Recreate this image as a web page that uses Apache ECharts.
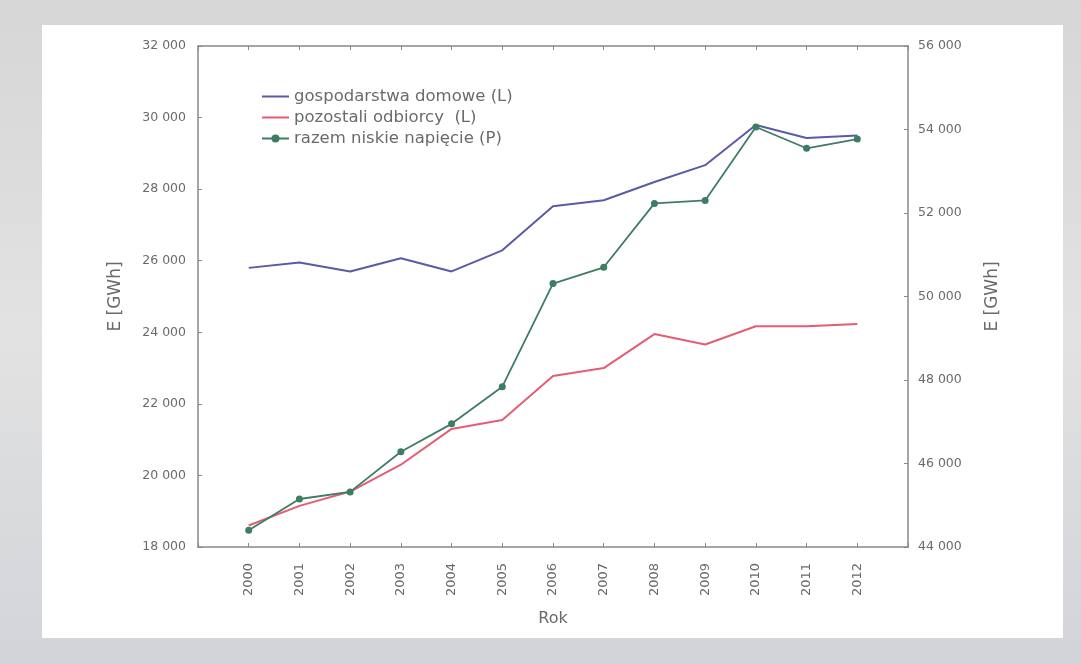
<!DOCTYPE html>
<html>
<head>
<meta charset="utf-8">
<script src="https://cdn.jsdelivr.net/npm/echarts@6/dist/echarts.min.js"></script>
<style>
  html, body { margin: 0; padding: 0; width: 1081px; height: 664px; overflow: hidden;
    background: linear-gradient(180deg, #d6d6d6 0%, #e2e2e2 50%, #d2d4d8 100%); }
  #panel { position: absolute; left: 42px; top: 25px; width: 1021px; height: 613px; background: #ffffff; }
  #chart { position: absolute; left: 0; top: 0; width: 1081px; height: 664px; }
</style>
</head>
<body>
<div id="panel"></div>
<div id="chart"></div>
<script>
const years = [2000, 2001, 2002, 2003, 2004, 2005, 2006, 2007, 2008, 2009, 2010, 2011, 2012];
const gospodarstwa = [25800, 25950, 25700, 26070, 25700, 26290, 27520, 27690, 28200, 28670, 29790, 29430, 29500];
const pozostali = [18600, 19150, 19550, 20300, 21300, 21550, 22780, 23000, 23950, 23660, 24170, 24170, 24230];
const razem = [44400, 45150, 45320, 46280, 46950, 47840, 50310, 50700, 52230, 52300, 54060, 53550, 53770];
const seriesNames = ['gospodarstwa domowe (L)', 'pozostali odbiorcy  (L)', 'razem niskie napięcie (P)'];
const leftTicks = { min: 18000, max: 32000, interval: 2000 };
const rightTicks = { min: 44000, max: 56000, interval: 2000 };

const pair = arr => years.map((y, i) => [y, arr[i]]);
const fmt = v => String(v).replace(/\B(?=(\d{3})+(?!\d))/g, ' ');
const txt = '#6a6a6a';
const font = 'DejaVu Sans, Verdana, sans-serif';
const blue = '#5a5aa6', red = '#e35d75', green = '#3d7d62';

const chart = echarts.init(document.getElementById('chart'));
chart.setOption({
  backgroundColor: 'transparent',
  animation: false,
  grid: { left: 198, right: 173, top: 46, bottom: 117 },
  legend: {
    left: 256, top: 83, orient: 'vertical', itemGap: 4,
    itemWidth: 27, itemHeight: 10,
    textStyle: { fontFamily: font, fontSize: 16.5, color: txt },
    data: [
      { name: seriesNames[0], itemStyle: { opacity: 0 } },
      { name: seriesNames[1], itemStyle: { opacity: 0 } },
      { name: seriesNames[2] }
    ]
  },
  xAxis: [{
    type: 'value', min: 1999, max: 2013, interval: 1,
    name: 'Rok', nameLocation: 'middle', nameGap: 64,
    nameTextStyle: { fontFamily: font, fontSize: 16, color: txt },
    axisLine: { lineStyle: { color: '#888', width: 1.5 } },
    axisTick: { inside: true, length: 4, lineStyle: { color: '#888' } },
    splitLine: { show: false },
    axisLabel: {
      rotate: 90, margin: 16, fontFamily: font, fontSize: 13, color: txt,
      formatter: v => (v >= years[0] && v <= years[years.length - 1]) ? String(v) : ''
    }
  }, {
    type: 'value', position: 'top', min: 1999, max: 2013, interval: 1,
    axisLine: { lineStyle: { color: '#888', width: 1.5 } },
    axisTick: { inside: true, length: 4, lineStyle: { color: '#888' } },
    axisLabel: { show: false }, splitLine: { show: false }
  }],
  yAxis: [{
    type: 'value', position: 'left', min: leftTicks.min, max: leftTicks.max, interval: leftTicks.interval,
    name: 'E [GWh]', nameLocation: 'middle', nameGap: 74, nameRotate: 90,
    nameTextStyle: { fontFamily: font, fontSize: 17, color: txt },
    axisLine: { show: true, lineStyle: { color: '#888', width: 1.5 } },
    axisTick: { show: true, inside: true, length: 4, lineStyle: { color: '#888' } },
    splitLine: { show: false },
    axisLabel: { margin: 12, fontFamily: font, fontSize: 12.5, color: txt, formatter: fmt }
  }, {
    type: 'value', position: 'right', min: rightTicks.min, max: rightTicks.max, interval: rightTicks.interval,
    name: 'E [GWh]', nameLocation: 'middle', nameGap: 76, nameRotate: 90,
    nameTextStyle: { fontFamily: font, fontSize: 17, color: txt },
    axisLine: { show: true, lineStyle: { color: '#888', width: 1.5 } },
    axisTick: { show: true, inside: true, length: 4, lineStyle: { color: '#888' } },
    splitLine: { show: false },
    axisLabel: { margin: 10, fontFamily: font, fontSize: 12.5, color: txt, formatter: fmt }
  }],
  series: [{
    name: seriesNames[0], type: 'line', yAxisIndex: 0, data: pair(gospodarstwa),
    symbol: 'none', lineStyle: { color: blue, width: 2 }, itemStyle: { color: blue }
  }, {
    name: seriesNames[1], type: 'line', yAxisIndex: 0, data: pair(pozostali),
    symbol: 'none', lineStyle: { color: red, width: 2 }, itemStyle: { color: red }
  }, {
    name: seriesNames[2], type: 'line', yAxisIndex: 1, data: pair(razem),
    symbol: 'circle', symbolSize: 7, lineStyle: { color: green, width: 1.8 }, itemStyle: { color: green }
  }]
});
</script>
</body>
</html>
